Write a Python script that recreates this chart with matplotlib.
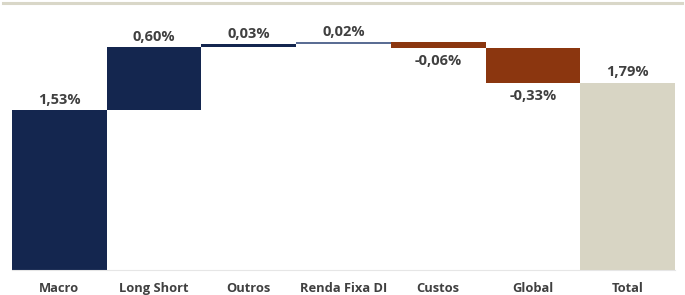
import matplotlib.pyplot as plt
from matplotlib.lines import Line2D
from matplotlib.transforms import blended_transform_factory

categories = ['Macro', 'Long Short', 'Outros', 'Renda Fixa DI', 'Custos', 'Global', 'Total']
values = [1.53, 0.60, 0.03, 0.02, -0.06, -0.33, 1.79]
labels = ['1,53%', '0,60%', '0,03%', '0,02%', '-0,06%', '-0,33%', '1,79%']
colors = ['#14264f', '#14264f', '#14264f', '#5b6d94', '#8b360f', '#8b360f', '#d8d5c4']

plt.rcParams['font.family'] = ['Open Sans', 'DejaVu Sans']

fig = plt.figure(figsize=(6.85, 2.95), dpi=100)
ax = fig.add_axes([12 / 685, 25 / 295, 663 / 685, 267 / 295])

# waterfall bottoms
bottoms = []
running = 0.0
for i, v in enumerate(values):
    if i == len(values) - 1:
        bottoms.append(0.0)
    elif v >= 0:
        bottoms.append(running)
        running += v
    else:
        running += v
        bottoms.append(running)

heights = [abs(v) for v in values]
x = list(range(len(categories)))
ax.bar(x, heights, bottom=bottoms, width=1.0, color=colors, edgecolor='none')

for i, v in enumerate(values):
    if v >= 0 or i == len(values) - 1:
        ax.text(i, bottoms[i] + heights[i] + 0.03, labels[i], ha='center', va='bottom',
                fontsize=10.5, fontweight='bold', color='#404040')
    else:
        ax.text(i, bottoms[i] - 0.06, labels[i], ha='center', va='top',
                fontsize=10.5, fontweight='bold', color='#404040')

ax.set_xlim(-0.5, len(categories) - 0.5)
ax.set_ylim(0, 2.55)
ax.set_yticks([])
ax.set_xticks([])
# category names, baseline-aligned under the bars
trans = blended_transform_factory(ax.transData, fig.transFigure)
for i, name in enumerate(categories):
    ax.text(i, 3 / 295, name, transform=trans, ha='center', va='baseline',
            fontsize=9.3, fontweight='bold', color='#404040')
for s in ['top', 'left', 'right']:
    ax.spines[s].set_visible(False)
ax.spines['bottom'].set_color('#e6e6e6')
ax.spines['bottom'].set_linewidth(0.8)

# thin rule at the top of the figure
fig.add_artist(Line2D([3 / 685, 682 / 685], [292.5 / 295, 292.5 / 295],
                      color='#d9d7c8', linewidth=2.2))

fig.savefig('out.png', dpi=100)
